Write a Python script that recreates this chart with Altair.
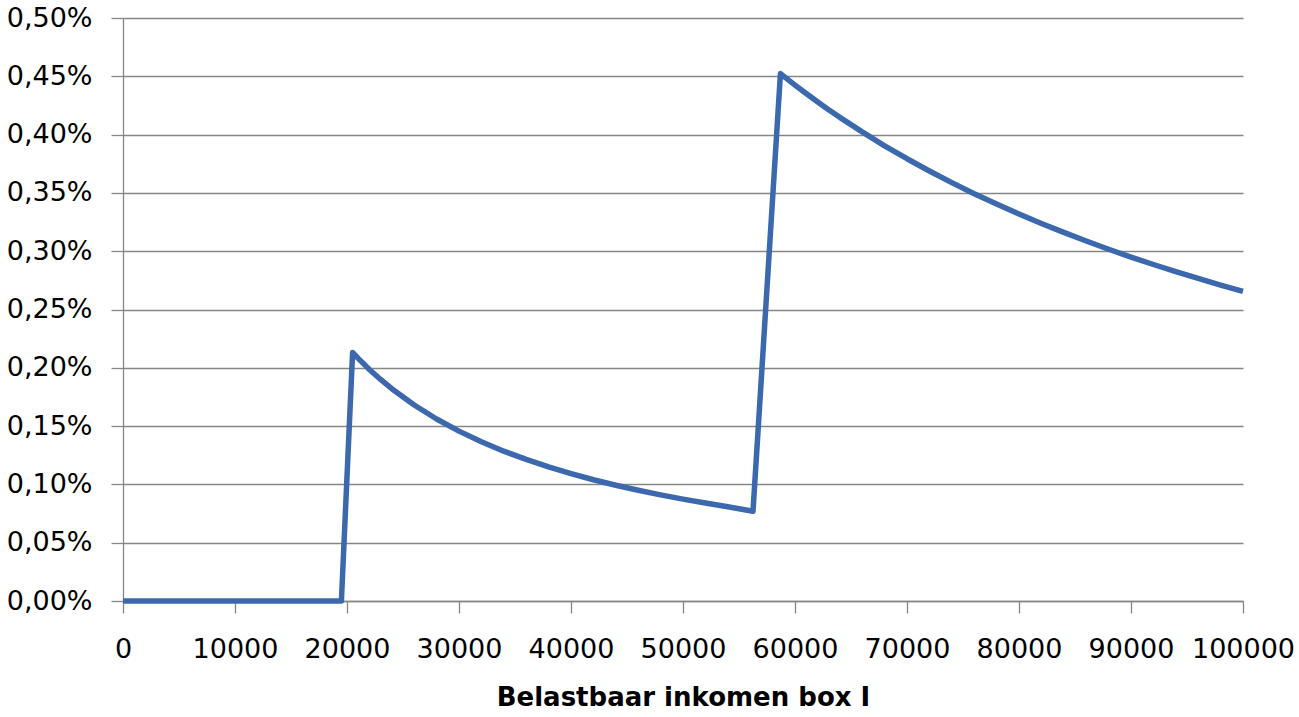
import altair as alt
import pandas as pd

income = [0, 19500, 20500, 21000, 22000, 23000, 24000, 26000, 28000, 30000, 32000,
          34000, 36000, 38000, 40000, 42000, 44000, 46000, 48000, 50000, 52000,
          54000, 56250, 58700, 60000, 61000, 62000, 63000, 64000, 66000, 68000,
          70000, 72000, 74000, 76000, 78000, 80000, 82000, 84000, 86000, 88000,
          90000, 92000, 94000, 96000, 98000, 100000]
rate_pct = [0.0, 0.0, 0.2132, 0.2081, 0.1986, 0.1900, 0.1821, 0.1681, 0.1561, 0.1457, 0.1366,
            0.1285, 0.1214, 0.1150, 0.1093, 0.1040, 0.0993, 0.0950, 0.0910, 0.0874, 0.0840,
            0.0809, 0.0770, 0.4523, 0.4425, 0.4352, 0.4282, 0.4214, 0.4148, 0.4023, 0.3904,
            0.3793, 0.3688, 0.3588, 0.3493, 0.3404, 0.3319, 0.3238, 0.3161, 0.3087, 0.3017,
            0.2950, 0.2886, 0.2824, 0.2766, 0.2709, 0.2655]
x_ticks = [0, 10000, 20000, 30000, 40000, 50000, 60000, 70000, 80000, 90000, 100000]
y_ticks = [0.0, 0.0005, 0.001, 0.0015, 0.002, 0.0025, 0.003, 0.0035, 0.004, 0.0045, 0.005]

df = pd.DataFrame({"x": income, "y": [v / 100 for v in rate_pct]})

FONT = "DejaVu Sans"
GRAY = "#868686"

chart = alt.Chart(df).mark_line(color="#3C68AE", strokeWidth=5.5, strokeJoin="round").encode(
    x=alt.X("x:Q", scale=alt.Scale(domain=[0, 100000], nice=False, zero=True),
            axis=alt.Axis(values=x_ticks, format="d", grid=False, title="Belastbaar inkomen box I",
                          labelFont=FONT, labelFontSize=27, labelColor="#000000",
                          labelPadding=23, tickSize=12, tickColor=GRAY, tickWidth=1.3,
                          domainColor=GRAY, domainWidth=1.3, labelFlush=False,
                          titleFont=FONT, titleFontSize=26, titleFontWeight="bold",
                          titleColor="#000000", titlePadding=22)),
    y=alt.Y("y:Q", scale=alt.Scale(domain=[0, 0.005], nice=False),
            axis=alt.Axis(values=y_ticks, labelExpr="replace(format(datum.value, '.2%'), '.', ',')",
                          grid=True, gridColor=GRAY, gridWidth=1.3, title=None,
                          labelFont=FONT, labelFontSize=27, labelColor="#000000",
                          labelPadding=19, tickSize=12, tickColor=GRAY, tickWidth=1.3,
                          domainColor=GRAY, domainWidth=1.3, labelFlush=False)),
).properties(
    width=1120, height=583,
    background="white",
    autosize=alt.AutoSizeParams(type="none"),
    padding={"left": 123, "top": 18, "right": 56, "bottom": 116},
).configure_view(stroke=None)

chart.save("out.html", embed_options={"renderer": "svg", "actions": False})
